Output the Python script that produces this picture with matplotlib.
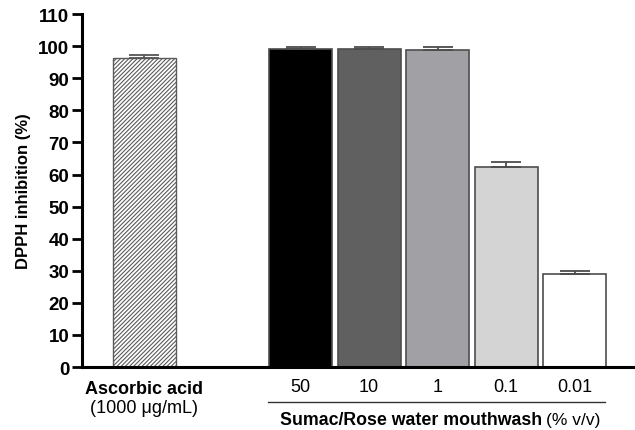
import numpy as np
import matplotlib
matplotlib.use("Agg")
import matplotlib.pyplot as plt
import matplotlib.transforms as mtransforms

plt.rcParams['font.family'] = ['Liberation Sans', 'DejaVu Sans']
plt.rcParams['hatch.linewidth'] = 0.8

# --- data ---
ref_label = "Ascorbic acid"
ref_sub = "(1000 μg/mL)"
ref_value = 96.4
ref_err = 1.0

conc_labels = ["50", "10", "1", "0.1", "0.01"]
conc_values = [99.1, 99.0, 98.9, 62.2, 28.9]
conc_err = [0.7, 0.8, 0.8, 1.6, 1.0]
conc_colors = ["#000000", "#606060", "#a1a1a5", "#d4d4d4", "#ffffff"]

yticks = list(range(0, 111, 10))

# --- layout ---
fig = plt.figure(figsize=(6.35, 4.31), dpi=100)
ax = fig.add_axes([0.129, 0.146, 0.871, 0.819])

width = 0.92
ref_x = 0.0
conc_x = 2.28 + np.arange(len(conc_values))

edge = "#4d4d4d"
ax.bar(ref_x, ref_value, width=width, color="white", edgecolor="#5a5a5a",
       hatch="////////", lw=1.0, zorder=2)
ax.errorbar(ref_x, ref_value, yerr=[[0], [ref_err]], fmt="none",
            ecolor="#555555", elinewidth=1.3, capsize=11, capthick=1.3, zorder=3)

ax.bar(conc_x, conc_values, width=width, color=conc_colors, edgecolor=edge,
       lw=1.2, zorder=2)
ax.errorbar(conc_x, conc_values, yerr=[np.zeros(len(conc_err)), conc_err],
            fmt="none", ecolor="#4d4d4d", elinewidth=1.3, capsize=11,
            capthick=1.3, zorder=3)

ax.set_xlim(-0.912, 7.16)
ax.set_ylim(0, 110)
ax.set_yticks(yticks)
ax.set_yticklabels([str(t) for t in yticks], fontweight="bold", fontsize=13.5)

ax.spines['top'].set_visible(False)
ax.spines['right'].set_visible(False)
ax.spines['left'].set_linewidth(2.2)
ax.spines['bottom'].set_linewidth(2.2)
ax.tick_params(axis='y', length=7, width=2, pad=2)
ax.set_xticks(conc_x)
ax.set_xticklabels(conc_labels, fontsize=13)
ax.tick_params(axis='x', length=0, pad=8)

ax.set_ylabel("DPPH inhibition (%)", fontweight="bold", fontsize=12, labelpad=5)

# category labels below the axis
trans = mtransforms.blended_transform_factory(ax.transData, ax.transAxes)
ax.text(ref_x, -0.062, ref_label, transform=trans, ha="center", va="center",
        fontweight="bold", fontsize=13)
ax.text(ref_x, -0.114, ref_sub, transform=trans, ha="center", va="center",
        fontsize=13)

# bracket line under the concentrations
ax.plot([conc_x[0] - width / 2 - 0.02, conc_x[-1] + width / 2 - 0.02],
        [-0.100, -0.100], transform=trans, color="#333333", lw=1.0,
        clip_on=False)
split = 5.80
ax.text(split, -0.149, "Sumac/Rose water mouthwash", transform=trans,
        ha="right", va="center", fontweight="bold", fontsize=12.8)
ax.text(split + 0.06, -0.149, "(% v/v)", transform=trans,
        ha="left", va="center", fontsize=12.5)

fig.savefig("out.png", dpi=100)
